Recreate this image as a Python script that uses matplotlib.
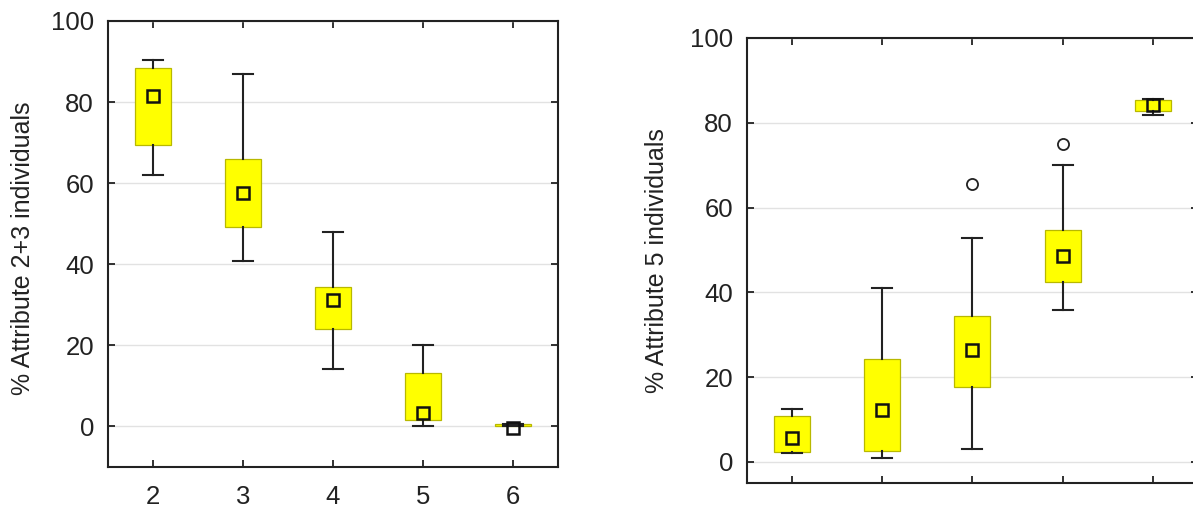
import matplotlib

matplotlib.use("Agg")
import matplotlib.pyplot as plt

plt.rcParams["font.family"] = ["Liberation Sans", "DejaVu Sans"]

# left panel: % attribute 2+3 individuals
left_pos = [2, 3, 4, 5, 6]
left_whislo = [61.9, 40.9, 14.2, 0.0, 0.0]
left_q1 = [69.3, 49.1, 24.1, 1.6, 0.0]
left_mid = [81.4, 57.5, 31.3, 3.2, -0.3]
left_q3 = [88.3, 65.9, 34.3, 13.1, 0.5]
left_whishi = [90.4, 87.0, 47.9, 20.0, 0.5]
left_fliers = [[], [], [], [], []]

# right panel: % attribute 5 individuals
right_pos = [1, 2, 3, 4, 5]
right_whislo = [2.1, 0.9, 3.1, 35.8, 81.8]
right_q1 = [2.3, 2.5, 17.6, 42.4, 82.8]
right_mid = [5.6, 12.3, 26.4, 48.5, 84.3]
right_q3 = [10.8, 24.2, 34.3, 54.8, 85.3]
right_whishi = [12.5, 40.9, 52.9, 70.0, 85.6]
right_fliers = [[], [], [65.6], [75.0], []]

YELLOW = "#ffff00"
EDGE = "#b8b800"
INK = "#222222"


def _stats(whislo, q1, mid, q3, whishi, fliers):
    out = []
    for lo, a, m, b, hi, fl in zip(whislo, q1, mid, q3, whishi, fliers):
        out.append(
            {"whislo": lo, "q1": a, "med": m, "mean": m, "q3": b,
             "whishi": hi, "fliers": fl}
        )
    return out


def _draw(ax, pos, stats):
    ax.bxp(
        stats,
        positions=pos,
        widths=0.4,
        capwidths=0.22,
        showmeans=True,
        showfliers=True,
        patch_artist=True,
        boxprops={"facecolor": YELLOW, "edgecolor": EDGE, "linewidth": 0.9},
        medianprops={"linewidth": 0},
        whiskerprops={"color": INK, "linewidth": 1.5},
        capprops={"color": INK, "linewidth": 1.5},
        meanprops={"marker": "s", "markersize": 8.5, "markerfacecolor": "none",
                   "markeredgecolor": "#111111", "markeredgewidth": 1.8},
        flierprops={"marker": "o", "markersize": 8, "markerfacecolor": "none",
                    "markeredgecolor": INK, "markeredgewidth": 1.3},
        zorder=3,
    )
    ax.yaxis.grid(True, color="#e2e2e2", linewidth=1.0, zorder=0)
    ax.set_axisbelow(True)
    ax.tick_params(direction="in", top=True, right=True, length=5, width=1.3,
                   labelsize=18.5, colors=INK)
    ax.tick_params(axis="y", pad=10)
    ax.tick_params(axis="x", pad=13)
    for sp in ax.spines.values():
        sp.set_linewidth(1.5)
        sp.set_color(INK)


fig = plt.figure(figsize=(11.93, 5.08), dpi=100)

ax1 = fig.add_axes([0.0905, 0.0807, 0.3772, 0.878])
_draw(ax1, left_pos,
      _stats(left_whislo, left_q1, left_mid, left_q3, left_whishi, left_fliers))
ax1.set_xlim(1.5, 6.5)
ax1.set_ylim(-10, 100)
ax1.set_yticks([0, 20, 40, 60, 80, 100])
ax1.set_xticks(left_pos)
ax1.set_xticklabels([str(p) for p in left_pos])
ax1.set_ylabel("% Attribute 2+3 individuals", fontsize=18, color=INK)
ax1.yaxis.set_label_coords(-0.162, 0.49)

ax2 = fig.add_axes([0.6261, 0.0492, 0.378, 0.876])
_draw(ax2, right_pos,
      _stats(right_whislo, right_q1, right_mid, right_q3, right_whishi,
             right_fliers))
ax2.set_xlim(0.5, 5.5)
ax2.set_ylim(-5, 100)
ax2.set_yticks([0, 20, 40, 60, 80, 100])
ax2.set_xticks(right_pos)
ax2.set_xticklabels([])
ax2.set_ylabel("% Attribute 5 individuals", fontsize=18, color=INK)
ax2.yaxis.set_label_coords(-0.172, 0.5)

fig.savefig("out.png", dpi=100)
